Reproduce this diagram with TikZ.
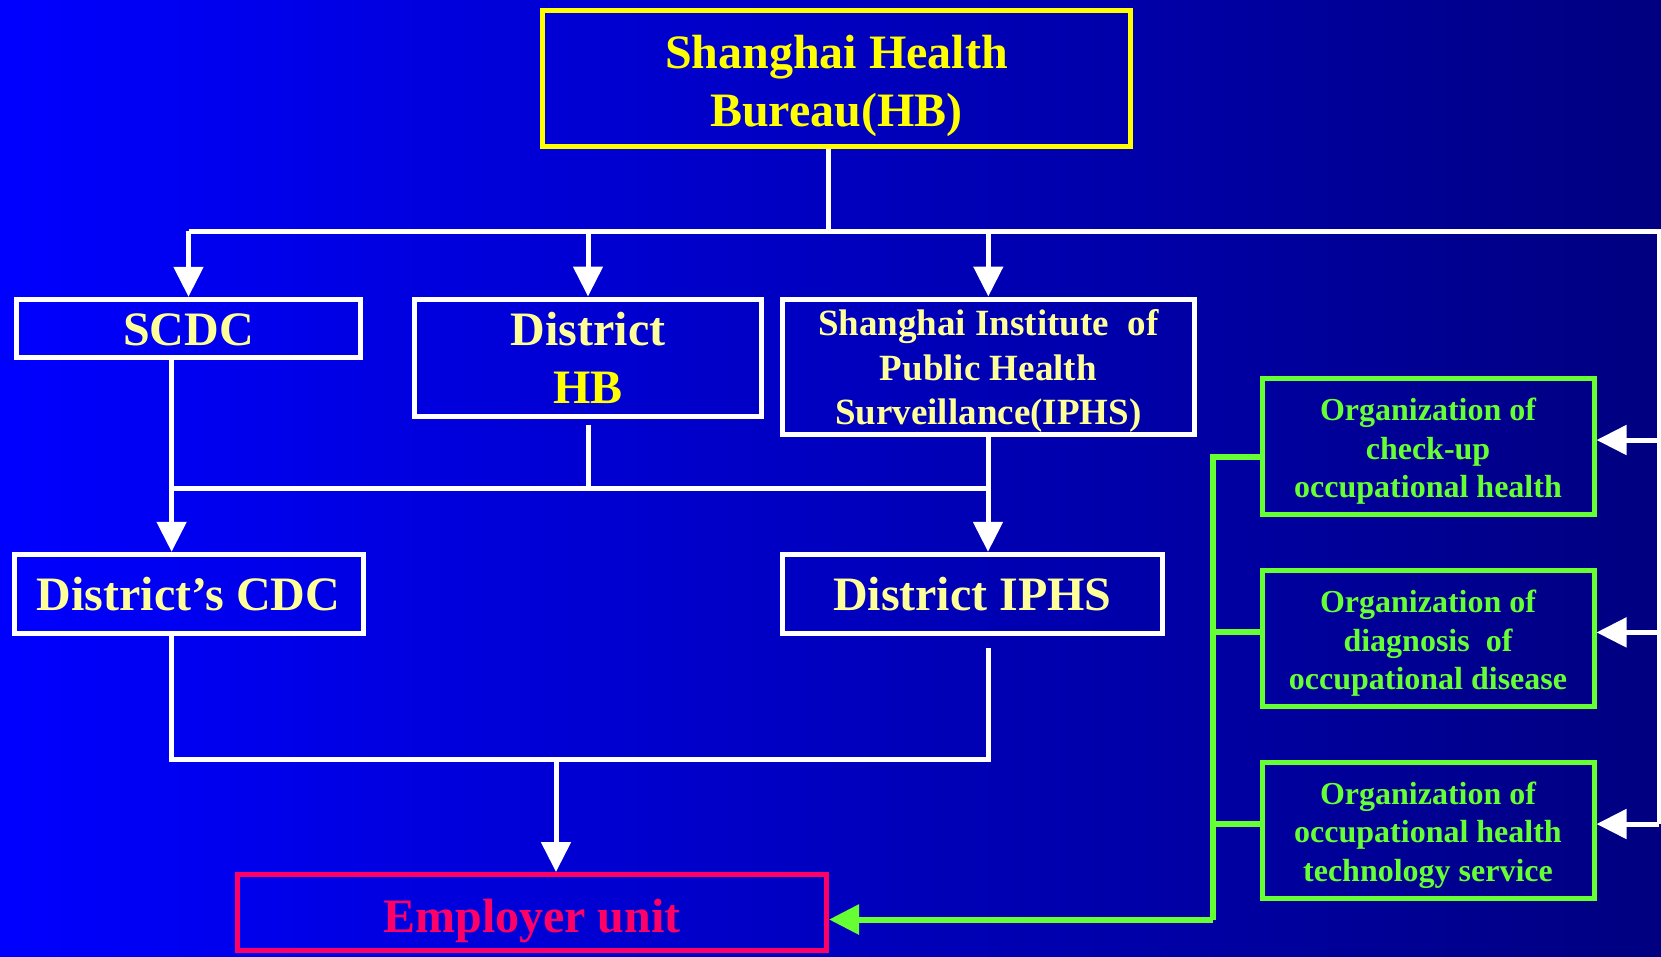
\documentclass[tikz,border=0pt]{standalone}
\usepackage{fontspec}
\setmainfont{Liberation Serif}
\usetikzlibrary{arrows.meta}
\definecolor{bgL}{RGB}{0,0,255}
\definecolor{bgR}{RGB}{0,0,128}
\definecolor{ylw}{RGB}{255,255,0}
\definecolor{pale}{RGB}{255,255,153}
\definecolor{grn}{RGB}{102,255,51}
\definecolor{pnk}{RGB}{255,0,102}
\begin{document}
\begin{tikzpicture}[x=1pt,y=-1pt,
  box/.style={draw=white,line width=5pt,rectangle,inner sep=0pt},
  txt/.style={inner sep=0pt,align=center},
  bigtxt/.style={txt,font=\bfseries\fontsize{48}{58}\selectfont},
  midtxt/.style={txt,font=\bfseries\fontsize{37}{44.5}\selectfont},
  smalltxt/.style={txt,text=grn,font=\bfseries\fontsize{32}{38.5}\selectfont},
  gbox/.style={box,draw=grn,minimum width=332pt,minimum height=136pt},
  wline/.style={draw=white,line width=5pt},
  gline/.style={draw=grn,line width=6pt},
  warr/.style={wline,-{Triangle[length=30pt,width=29pt]}},
  garr/.style={gline,-{Triangle[length=30pt,width=29pt]}}]
\useasboundingbox (0,0) rectangle (1661,956);
\shade[left color=bgL,right color=bgR] (0,0) rectangle (1661,956);

% boxes
\node[box,draw=ylw,minimum width=588pt,minimum height=136pt] (hb) at (836.5,78.75) {};
\node[box,minimum width=344pt,minimum height=58pt] (scdc) at (188.5,328.3) {};
\node[box,minimum width=347pt,minimum height=117pt] (dhb) at (588,357.5) {};
\node[box,minimum width=412pt,minimum height=135pt] (iphs) at (988.3,366.5) {};
\node[box,minimum width=349pt,minimum height=79pt] (dcdc) at (188.5,593.8) {};
\node[box,minimum width=380pt,minimum height=79pt] (diphs) at (972.3,593.8) {};
\node[box,draw=pnk,minimum width=589pt,minimum height=76pt] (emp) at (532,912.5) {};
\node[gbox] (g1) at (1428,446.5) {};
\node[gbox] (g2) at (1428,638.3) {};
\node[gbox] (g3) at (1428,830) {};

% texts
\node[bigtxt,text=ylw] (hbt) at ([yshift=-7pt]hb.center) {Shanghai Health\\Bureau(HB)};
\node[bigtxt,text=pale] (scdct) at ([yshift=-2pt]scdc.center) {SCDC};
\node[bigtxt] (dhbt) at (dhb.center) {\textcolor{pale}{District}\\\textcolor{ylw}{HB}};
\node[midtxt,text=pale] (iphst) at ([yshift=-4.5pt]iphs.center) {Shanghai Institute\ \ of\\Public Health\\Surveillance(IPHS)};
\node[bigtxt,text=pale] (dcdct) at (dcdc.center) {District’s CDC};
\node[bigtxt,text=pale] (diphst) at (diphs.center) {District IPHS};
\node[bigtxt,text=pnk] (empt) at ([yshift=-8.5pt]emp.center) {Employer unit};
\node[smalltxt] (g1t) at ([yshift=-5pt]g1.center) {Organization of\\check-up\\occupational health};
\node[smalltxt] (g2t) at ([yshift=-5pt]g2.center) {Organization of\\diagnosis\ \ of\\occupational disease};
\node[smalltxt] (g3t) at ([yshift=-5pt]g3.center) {Organization of\\occupational health\\technology service};

% coordinates
\coordinate (hbj) at (828,231);
\coordinate (busR) at (1659,231);
\coordinate (r1) at (1659,440);
\coordinate (r2) at (1659,632.4);
\coordinate (r3) at (1659,824);
\coordinate (midL) at (171.6,488);
\coordinate (dhbj) at (588,488);
\coordinate (midR) at (988,488);
\coordinate (lowL) at (171.6,759.5);
\coordinate (lowR) at (988,759.5);
\coordinate (lowM) at (556,759.5);
\coordinate (gTop) at (1213,456.6);
\coordinate (gB2) at (1213,632.4);
\coordinate (gB3) at (1213,824);
\coordinate (gBot) at (1213,919.5);

% top tree
\draw[wline] (hbj |- hb.south) -- (hbj);
\draw[wline,line join=miter] (scdc.north |- hbj) -- (busR) -- (r3);
\draw[warr] (scdc.north |- hbj) -- (scdc.north);
\draw[warr] (dhb.north |- hbj) -- (dhb.north);
\draw[warr] (iphs.north |- hbj) -- (iphs.north);
\draw[warr] (r1) -- (g1.east |- r1);
\draw[warr] (r2) -- (g2.east |- r2);
\draw[warr] (r3) -- (g3.east |- r3);

% middle tree
\draw[warr] (midL |- scdc.south) -- (midL |- dcdc.north);
\draw[wline] ([yshift=-6pt]dhb.south) -- (dhbj);
\draw[wline] (midL) -- (midR);
\draw[warr] (midR |- iphs.south) -- (midR |- diphs.north);

% lower tree
\draw[wline,line join=miter] (lowL |- dcdc.south) -- (lowL) -- (lowR) -- ([yshift=-12pt]lowR |- diphs.south);
\draw[warr] (lowM) -- (lowM |- emp.north);

% green bus
\draw[gline,line join=miter] (g1.west |- gTop) -- (gTop) -- (gBot);
\draw[gline] (gB2) -- (g2.west |- gB2);
\draw[gline] (gB3) -- (g3.west |- gB3);
\draw[garr] (gBot) -- (emp.east |- gBot);
\end{tikzpicture}
\end{document}
